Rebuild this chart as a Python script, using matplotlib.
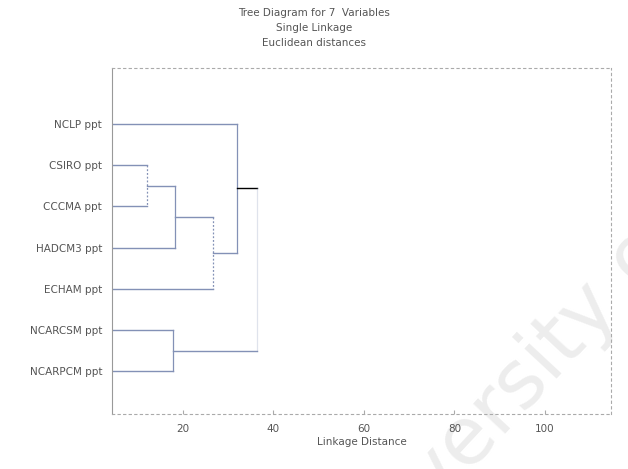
import matplotlib
matplotlib.use("Agg")
import matplotlib.pyplot as plt

# leaves, top to bottom
leaves = ["NCLP ppt", "CSIRO ppt", "CCCMA ppt", "HADCM3 ppt",
          "ECHAM ppt", "NCARCSM ppt", "NCARPCM ppt"]

# single linkage merges: cluster 7, 8, ... are created in this order
merge_a = [1, 7, 8, 0, 5, 10]
merge_b = [2, 3, 4, 9, 6, 11]
merge_dist = [12.0, 18.2, 26.6, 31.9, 17.9, 36.4]

x_ticks = [20, 40, 60, 80, 100]

LINE = "#8391b6"
TXT = "#555555"

fig = plt.figure(figsize=(6.28, 4.69), dpi=100)
ax = fig.add_axes([0.178, 0.117, 0.795, 0.738])
ax.set_facecolor("none")
x0 = 4.3
ax.set_xlim(x0, 114.6)
ax.set_ylim(7.04, -1.36)

ypos = {i: float(i) for i in range(len(leaves))}
xpos = {i: x0 for i in range(len(leaves))}
n = len(leaves)
for k, (a, b, d) in enumerate(zip(merge_a, merge_b, merge_dist)):
    last = k == len(merge_a) - 1
    for c in (a, b):
        col = "black" if (last and c == 10) else LINE
        ax.plot([xpos[c], d], [ypos[c], ypos[c]], color=col, lw=1.0)
    ax.plot([d, d], [ypos[a], ypos[b]], color=LINE, lw=0.9,
            ls=(0, (1.5, 1.5)) if k in (0, 2) else "-",
            alpha=0.25 if last else 1.0)
    ypos[n + k] = (ypos[a] + ypos[b]) / 2
    xpos[n + k] = d

ax.set_yticks(range(len(leaves)))
ax.set_yticklabels(leaves, fontsize=7.5, color=TXT)
ax.set_xticks(x_ticks)
ax.set_xticklabels([str(t) for t in x_ticks], fontsize=7.5, color=TXT)
ax.tick_params(axis="y", length=0, pad=7)
ax.tick_params(axis="x", direction="in", length=3, color="#aaaaaa", pad=7)
ax.set_xlabel("Linkage Distance", fontsize=7.5, color=TXT, labelpad=2)

ax.spines["left"].set_color("#999999")
for s in ("top", "right", "bottom"):
    ax.spines[s].set_color("#aaaaaa")
    ax.spines[s].set_linestyle((0, (2, 3)))
    ax.spines[s].set_linewidth(0.8)

fig.text(0.5, 0.965, "Tree Diagram for 7  Variables", ha="center", fontsize=7.5, color=TXT)
fig.text(0.5, 0.933, "Single Linkage", ha="center", fontsize=7.5, color=TXT)
fig.text(0.5, 0.901, "Euclidean distances", ha="center", fontsize=7.5, color=TXT)

# faint scan watermark
fig.text(0.548, -0.292, "University of", fontsize=58, color="#ededed", rotation=47,
         rotation_mode="anchor", ha="left", va="baseline", zorder=-1)

fig.savefig("out.png", dpi=100)
